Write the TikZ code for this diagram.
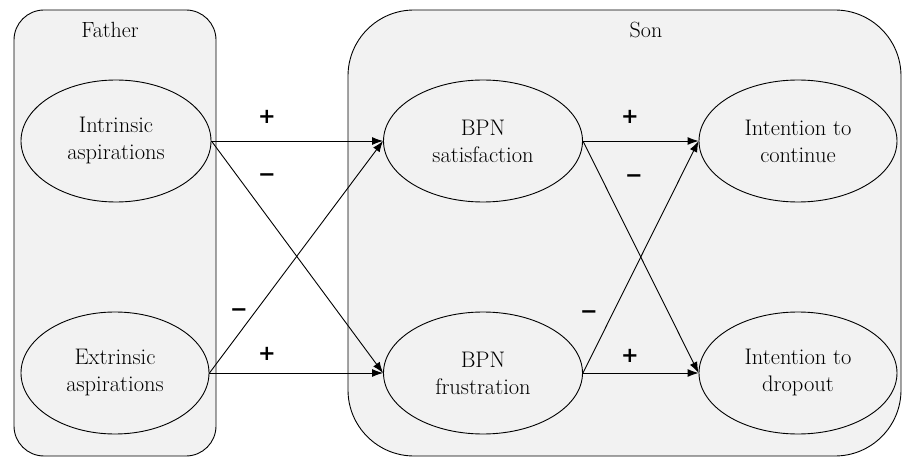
\documentclass[tikz,border=0pt]{standalone}
\usepackage{fontspec}
\newfontfamily\signfont{DejaVu Sans}
\usetikzlibrary{shapes.geometric,arrows.meta}
\definecolor{boxgray}{HTML}{F2F2F2}
\begin{document}
\begin{tikzpicture}[x=1pt,y=-1pt,
  box/.style={draw=black,fill=boxgray,line width=0.9pt},
  oval/.style={ellipse,draw,fill=boxgray,line width=0.9pt,inner sep=0pt,align=center,
    minimum height=122pt,font=\fontsize{22.5}{27}\selectfont},
  lbl/.style={font=\fontsize{22}{26}\selectfont},
  sign/.style={font=\signfont\bfseries\fontsize{21}{24}\selectfont,inner sep=0pt},
  arr/.style={-{Latex[length=11pt,width=8pt]},line width=0.9pt}]
\useasboundingbox (0,0) rectangle (903,457);
\draw[box,rounded corners=30pt] (14,10) rectangle (216,456);
\draw[box,rounded corners=66pt] (348,10) rectangle (901,456);
\node[lbl] (father) at (110,30) {Father};
\node[lbl] (son) at (646,30) {Son};
\node[oval,minimum width=190pt] (ia) at (116,141) {Intrinsic\\aspirations};
\node[oval,minimum width=188pt] (ea) at (115,373) {Extrinsic\\aspirations};
\node[oval,minimum width=199pt] (bs) at (483,141) {BPN\\satisfaction};
\node[oval,minimum width=199pt] (bf) at (483,373) {BPN\\frustration};
\node[oval,minimum width=198pt] (ic) at (798,141) {Intention to\\continue};
\node[oval,minimum width=198pt] (id) at (798,373) {Intention to\\dropout};
\draw[arr] (ia.east) -- (bs.west);
\draw[arr] (ia.east) -- (bf.west);
\draw[arr] (ea.east) -- (bs.west);
\draw[arr] (ea.east) -- (bf.west);
\draw[arr] (bs.east) -- (ic.west);
\draw[arr] (bs.east) -- (id.west);
\draw[arr] (bf.east) -- (ic.west);
\draw[arr] (bf.east) -- (id.west);
\node[sign] (s1) at (267,117) {+};
\node[sign] (s2) at (267,178) {−};
\node[sign] (s3) at (239,313) {−};
\node[sign] (s4) at (267,354) {+};
\node[sign] (s5) at (630,117) {+};
\node[sign] (s6) at (634,179) {−};
\node[sign] (s7) at (589,315) {−};
\node[sign] (s8) at (630,356) {+};
\end{tikzpicture}
\end{document}
